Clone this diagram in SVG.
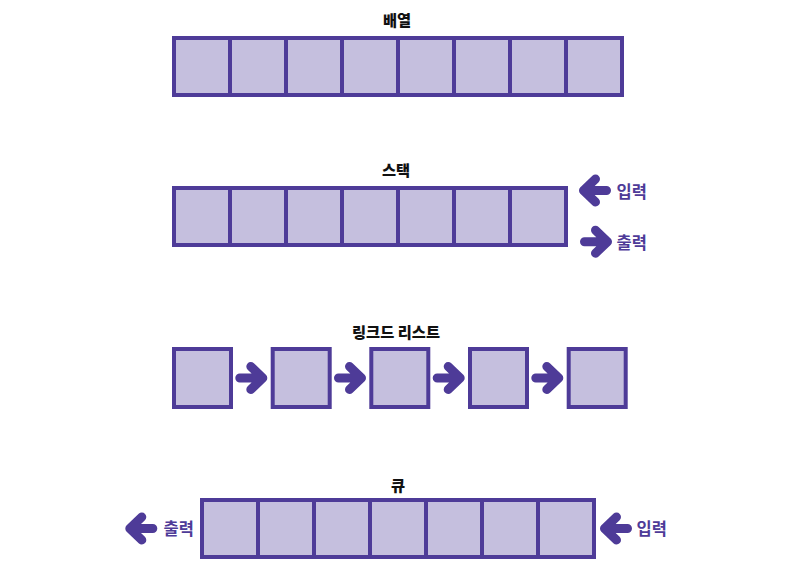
<svg xmlns="http://www.w3.org/2000/svg" xmlns:xlink="http://www.w3.org/1999/xlink" width="800" height="576" viewBox="0 0 800 576">
  <style>
    .cell { fill: #C5BFDE; stroke: #4E3B98; stroke-width: 4; }
    .title { font-family: "Noto Sans CJK KR", sans-serif; font-weight: 900; font-size: 15.3px; fill: #111111; text-anchor: middle; }
    .lbl { font-family: "Noto Sans CJK KR", sans-serif; font-weight: 700; font-size: 16.5px; fill: #4E3B98; }
    .arw { fill: none; stroke: #4E3B98; stroke-width: 9; stroke-linecap: round; stroke-linejoin: round; }
  </style>
  <defs>
    <path id="arrL" class="arw" d="M -11.5 0 L 11.5 0 M 0.5 -11.5 L -11.5 0 L 0.5 11.5"/>
    <path id="arrR" class="arw" d="M 11.5 0 L -11.5 0 M -0.5 -11.5 L 11.5 0 L -0.5 11.5"/>
  </defs>
  <rect width="800" height="576" fill="#ffffff"/>

  <g id="array">
    <text class="title" x="397" y="25.5">배열</text>
    <rect class="cell" x="174" y="38" width="56" height="57"/>
    <rect class="cell" x="230" y="38" width="56" height="57"/>
    <rect class="cell" x="286" y="38" width="56" height="57"/>
    <rect class="cell" x="342" y="38" width="56" height="57"/>
    <rect class="cell" x="398" y="38" width="56" height="57"/>
    <rect class="cell" x="454" y="38" width="56" height="57"/>
    <rect class="cell" x="510" y="38" width="56" height="57"/>
    <rect class="cell" x="566" y="38" width="56" height="57"/>
  </g>

  <g id="stack">
    <text class="title" x="396" y="175.5">스택</text>
    <rect class="cell" x="174" y="188" width="56" height="57"/>
    <rect class="cell" x="230" y="188" width="56" height="57"/>
    <rect class="cell" x="286" y="188" width="56" height="57"/>
    <rect class="cell" x="342" y="188" width="56" height="57"/>
    <rect class="cell" x="398" y="188" width="56" height="57"/>
    <rect class="cell" x="454" y="188" width="56" height="57"/>
    <rect class="cell" x="510" y="188" width="56" height="57"/>
    <text class="lbl" x="616.5" y="198">입력</text>
    <text class="lbl" x="616.5" y="248.5">출력</text>
  </g>

  <g id="linked-list">
    <text class="title" x="396" y="337.5">링크드 리스트</text>
    <rect class="cell" x="174" y="349" width="57" height="58"/>
    <rect class="cell" x="272.7" y="349" width="57" height="58"/>
    <rect class="cell" x="371.3" y="349" width="57" height="58"/>
    <rect class="cell" x="470" y="349" width="57" height="58"/>
    <rect class="cell" x="568.7" y="349" width="57" height="58"/>
  </g>

  <g id="queue">
    <text class="title" x="398" y="490.5">큐</text>
    <rect class="cell" x="202" y="500" width="56" height="57"/>
    <rect class="cell" x="258" y="500" width="56" height="57"/>
    <rect class="cell" x="314" y="500" width="56" height="57"/>
    <rect class="cell" x="370" y="500" width="56" height="57"/>
    <rect class="cell" x="426" y="500" width="56" height="57"/>
    <rect class="cell" x="482" y="500" width="56" height="57"/>
    <rect class="cell" x="538" y="500" width="56" height="57"/>
    <text class="lbl" x="163.5" y="535">출력</text>
    <text class="lbl" x="636.5" y="535">입력</text>
  </g>

  <g id="connectors">
    <use xlink:href="#arrL" x="595" y="190.5"/>
    <use xlink:href="#arrR" x="596" y="241.7"/>
    <use xlink:href="#arrR" x="251.3" y="378"/>
    <use xlink:href="#arrR" x="350" y="378"/>
    <use xlink:href="#arrR" x="448.7" y="378"/>
    <use xlink:href="#arrR" x="547.3" y="378"/>
    <use xlink:href="#arrL" x="141.3" y="528.5"/>
    <use xlink:href="#arrL" x="616" y="528.5"/>
  </g>
</svg>
